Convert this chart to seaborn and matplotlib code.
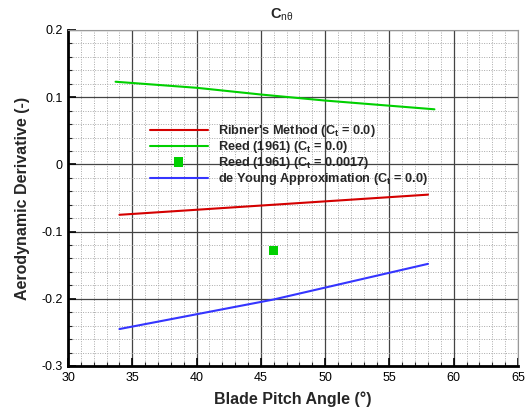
import numpy as np
import pandas as pd
import matplotlib
matplotlib.use("Agg")
import matplotlib.pyplot as plt
from matplotlib.ticker import MultipleLocator, FuncFormatter
import seaborn as sns

# ---- data ----
ribner_x = [34.0, 58.0]
ribner_y = [-0.075, -0.045]
reed_x = [33.7, 40.0, 45.0, 50.0, 58.5]
reed_y = [0.123, 0.114, 0.104, 0.095, 0.082]
reed_pts_x = [38.6, 46.0]
reed_pts_y = [0.004, -0.128]
young_x = [34.0, 46.0, 58.0]
young_y = [-0.245, -0.201, -0.148]

labels = [r"Ribner's Method (C$_\mathregular{t}$ = 0.0)",
          r"Reed (1961) (C$_\mathregular{t}$ = 0.0)",
          r"Reed (1961) (C$_\mathregular{t}$ = 0.0017)",
          r"de Young Approximation (C$_\mathregular{t}$ = 0.0)"]
colors = ["#d40000", "#00d000", "#00d000", "#3535ff"]

sns.set_style("white")
plt.rcParams['font.family'] = ['Liberation Sans', 'DejaVu Sans']
plt.rcParams['axes.unicode_minus'] = False
plt.rcParams['mathtext.fontset'] = 'custom'
plt.rcParams['mathtext.rm'] = 'Liberation Sans'
plt.rcParams['mathtext.bf'] = 'Liberation Sans:bold'
plt.rcParams['mathtext.it'] = 'Liberation Sans:italic'

fig = plt.figure(figsize=(5.26, 4.16), dpi=100)
ax = fig.add_axes([68/526, 1-366/416, 450/526, 336/416])

lines_df = pd.concat([
    pd.DataFrame({"x": ribner_x, "y": ribner_y, "s": labels[0]}),
    pd.DataFrame({"x": reed_x, "y": reed_y, "s": labels[1]}),
    pd.DataFrame({"x": young_x, "y": young_y, "s": labels[3]}),
])
pts_df = pd.DataFrame({"x": reed_pts_x, "y": reed_pts_y, "s": labels[2]})

for lab, col in [(labels[0], colors[0]), (labels[1], colors[1]), (labels[3], colors[3])]:
    sns.lineplot(data=lines_df[lines_df.s == lab], x="x", y="y", color=col,
                 linewidth=1.5, ax=ax, label=lab, sort=False, zorder=5)
sns.scatterplot(data=pts_df, x="x", y="y", color=colors[2], marker="s", s=40,
                edgecolor="none", ax=ax, label=labels[2], zorder=5)

ax.set_xlim(30, 65)
ax.set_ylim(-0.3, 0.2)
ax.xaxis.set_major_locator(MultipleLocator(5))
ax.xaxis.set_minor_locator(MultipleLocator(1))
ax.yaxis.set_major_locator(MultipleLocator(0.1))
ax.yaxis.set_minor_locator(MultipleLocator(0.02))
ax.yaxis.set_major_formatter(FuncFormatter(lambda v, p: "%g" % round(v, 3)))
ax.xaxis.set_major_formatter(FuncFormatter(lambda v, p: "%g" % v))

ax.grid(which='major', color='#444444', linewidth=0.9, linestyle='-')
ax.grid(which='minor', color='#aaaaaa', linewidth=0.7, linestyle=(0, (1, 1.5)))
ax.set_axisbelow(True)

for s in ['top', 'right']:
    ax.spines[s].set_color('#999999')
    ax.spines[s].set_linewidth(0.8)
for s in ['left', 'bottom']:
    ax.spines[s].set_color('black')
    ax.spines[s].set_linewidth(2.0)

ax.tick_params(which='major', direction='in', length=6, width=1.2, labelsize=9,
               left=True, bottom=True, top=False, right=False, colors='black', pad=4)
ax.tick_params(which='minor', direction='in', length=3, width=0.8,
               left=True, bottom=True, top=False, right=False)

ax.set_xlabel("Blade Pitch Angle (°)", fontsize=11.5, fontweight='bold', labelpad=6)
ax.set_ylabel("Aerodynamic Derivative (-)", fontsize=11.5, fontweight='bold', labelpad=8)
ax.set_title(r"$\mathbf{C}_{\mathregular{n\theta}}$", fontsize=10.5, pad=8, x=0.475)

handles, labs = ax.get_legend_handles_labels()
order = [labs.index(l) for l in labels]
leg = ax.legend([handles[i] for i in order], [labs[i] for i in order],
                loc='upper left', bbox_to_anchor=(82/450, (366-123)/336),
                frameon=False, fontsize=9.2, handlelength=4.5, handletextpad=0.85,
                labelspacing=0.0, borderaxespad=0, borderpad=0, scatterpoints=1)
for t in leg.get_texts():
    t.set_fontweight('bold')

fig.savefig("out.png", dpi=100)
